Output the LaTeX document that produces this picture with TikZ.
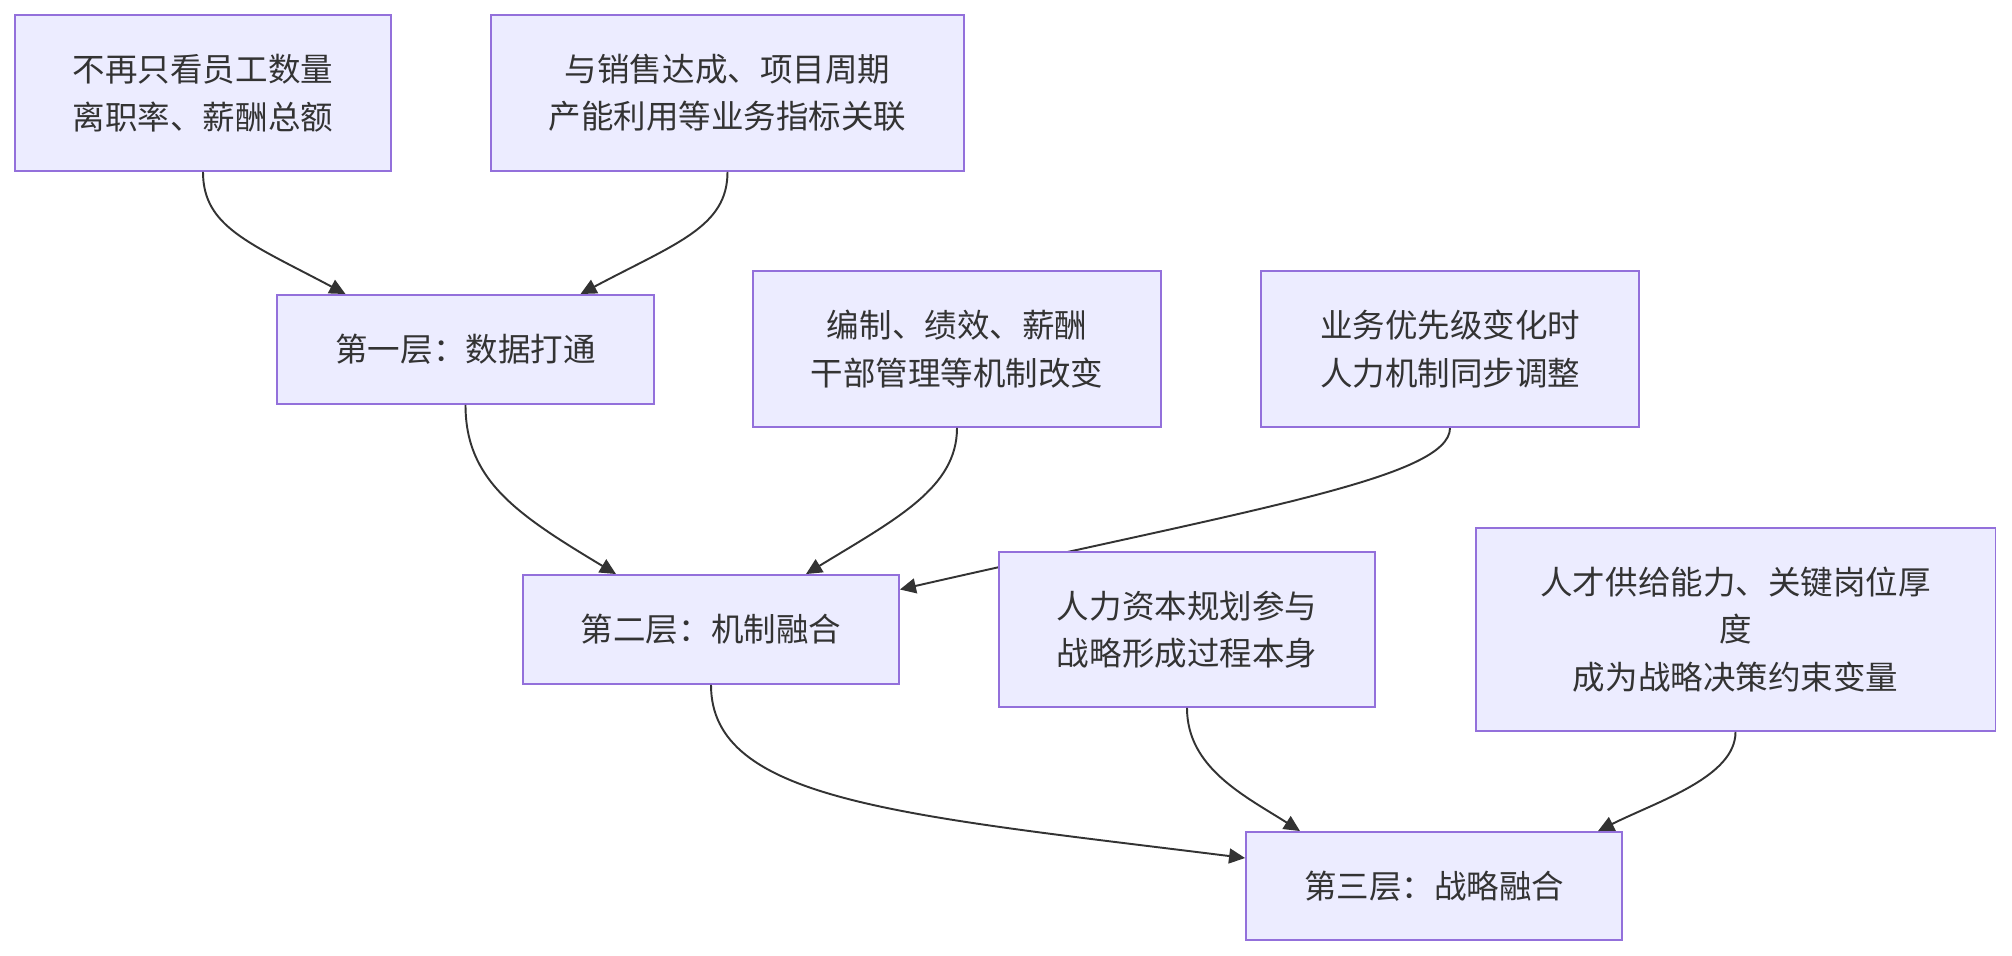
\documentclass[tikz,border=0pt]{standalone}
\usepackage{fontspec}
\setmainfont{Noto Sans CJK SC}
\usetikzlibrary{arrows.meta,calc,backgrounds}
\definecolor{boxfill}{HTML}{ECECFF}
\definecolor{boxline}{HTML}{9370DB}
\definecolor{inkgray}{HTML}{333333}
\begin{document}
\begin{tikzpicture}[x=0.02cm, y=-0.02cm,
    box/.style={draw=boxline, fill=boxfill, line width=1.1pt, inner sep=0pt,
        align=center, text=inkgray, font=\fontsize{18.5}{27}\selectfont},
    link/.style={draw=inkgray, line width=1.1pt,
        -{Triangle[length=0.32cm,width=0.3cm]}}]
    \useasboundingbox (0,0) rectangle (2012,956);

    % inputs of the first layer
    \node[box, minimum width=7.52cm, minimum height=3.12cm] (headcount) at (203,93) {不再只看员工数量\\离职率、薪酬总额};
    \node[box, minimum width=9.46cm, minimum height=3.12cm] (bizlink) at (727.5,93) {与销售达成、项目周期\\产能利用等业务指标关联};
    \node[box, minimum width=7.54cm, minimum height=2.18cm] (layerone) at (465.5,349.5) {第一层：数据打通};

    % inputs of the second layer
    \node[box, minimum width=8.16cm, minimum height=3.12cm] (mechanism) at (957,349) {编制、绩效、薪酬\\干部管理等机制改变};
    \node[box, minimum width=7.56cm, minimum height=3.12cm] (priority) at (1450,349) {业务优先级变化时\\人力机制同步调整};
    \node[box, minimum width=7.52cm, minimum height=2.18cm] (layertwo) at (711,629.5) {第二层：机制融合};

    % inputs of the third layer
    \node[box, minimum width=7.52cm, minimum height=3.1cm] (planning) at (1187,629.5) {人力资本规划参与\\战略形成过程本身};
    \node[box, minimum width=10.4cm, minimum height=4.06cm] (supply) at (1735.5,629.5) {人才供给能力、关键岗位厚\\度\\成为战略决策约束变量};
    \node[box, minimum width=7.52cm, minimum height=2.16cm] (layerthree) at (1434,886) {第三层：战略融合};

    % links
    \draw[link] (headcount.south) .. controls +(0,55) and +(-96,-51) .. ($(layerone.north)+(-120,0)$);
    \draw[link] (bizlink.south) .. controls +(0,55) and +(96,-51) .. ($(layerone.north)+(115,0)$);
    \draw[link] (layerone.south) .. controls +(0,75) and +(-100,-60) .. ($(layertwo.north)+(-95,0)$);
    \draw[link] (mechanism.south) .. controls +(0,60) and +(90,-55) .. ($(layertwo.north)+(95,0)$);
    \begin{scope}[on background layer]
        \draw[link] (priority.south) .. controls +(0,50) and +(350,-80) .. ($(layertwo.east)+(0,-40)$);
    \end{scope}
    \draw[link] (layertwo.south) .. controls +(0,116) and +(-345,-43) .. ($(layerthree.west)+(0,-28)$);
    \draw[link] (planning.south) .. controls +(0,60) and +(-55,-35) .. ($(layerthree.north)+(-134,0)$);
    \draw[link] (supply.south) .. controls +(0,45) and +(60,-30) .. ($(layerthree.north)+(164,0)$);
\end{tikzpicture}
\end{document}
